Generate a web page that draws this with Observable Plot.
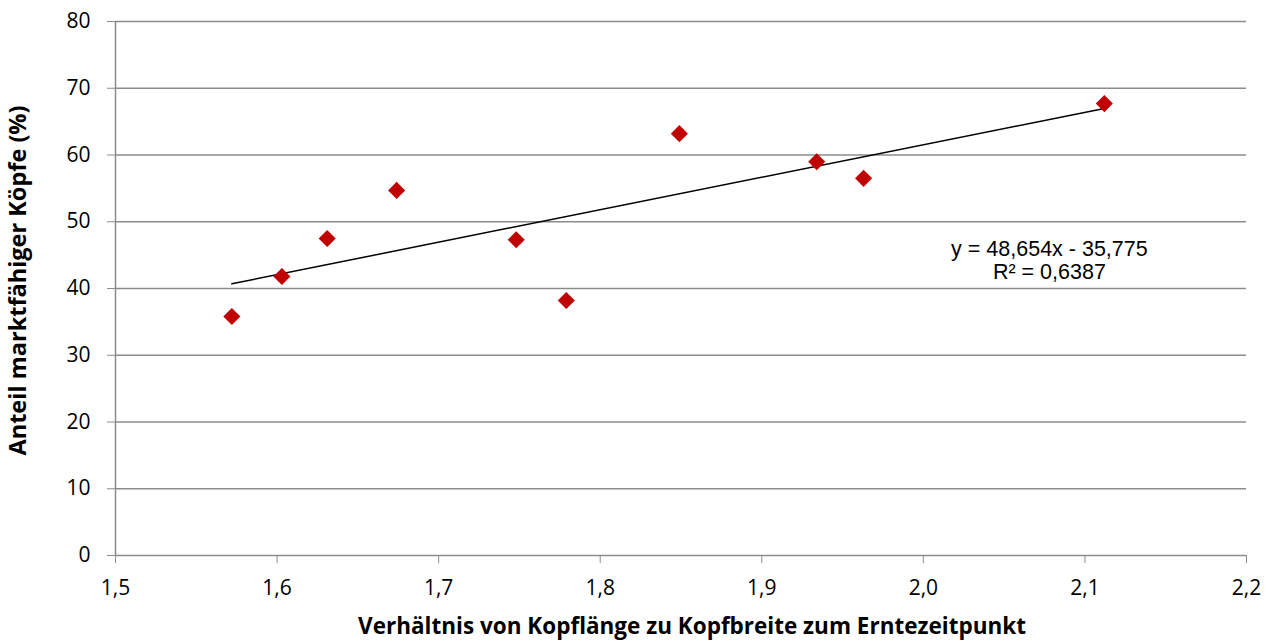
<!DOCTYPE html>
<html>
<head>
<meta charset="utf-8">
<script src="https://cdn.jsdelivr.net/npm/d3@7"></script>
<script src="https://cdn.jsdelivr.net/npm/@observablehq/plot@0.6"></script>
<style>
  html, body { margin: 0; padding: 0; background: #fff; }
  #chart svg { display: block; }
</style>
</head>
<body>
<div id="chart"></div>
<script>
// Data
const ratio = [1.572, 1.603, 1.631, 1.674, 1.748, 1.779, 1.849, 1.934, 1.963, 2.112];
const share = [35.8, 41.8, 47.5, 54.7, 47.3, 38.2, 63.2, 59.0, 56.5, 67.7];
const slope = 48.654;
const intercept = -35.775;
const equationLabel = "y = 48,654x - 35,775\nR² = 0,6387";
const labelPos = [2.078, 44.3];
const xTicks = [1.5, 1.6, 1.7, 1.8, 1.9, 2.0, 2.1, 2.2];
const yTicks = [0, 10, 20, 30, 40, 50, 60, 70, 80];
const xTitle = "Verhältnis von Kopflänge zu Kopfbreite zum Erntezeitpunkt";
const yTitle = "Anteil marktfähiger Köpfe (%)";

const points = ratio.map((r, i) => ({x: r, y: share[i]}));
const xMin = d3.min(ratio), xMax = d3.max(ratio);
const trend = [xMin, xMax].map(x => ({x, y: slope * x + intercept}));

const fmt = d => d.toFixed(1).replace(".", ",");
const grid = "#8c8c8c";

const chart = Plot.plot({
  width: 1273,
  height: 642,
  marginLeft: 115,
  marginRight: 27,
  marginTop: 21,
  marginBottom: 87,
  style: {fontFamily: "'Open Sans', sans-serif", fontSize: "21px", color: "#000", background: "#fff"},
  x: {type: "linear", domain: [1.5, 2.2]},
  y: {type: "linear", domain: [0, 80]},
  marks: [
    Plot.ruleY(yTicks, {stroke: grid, strokeWidth: 1.5}),
    Plot.ruleX([1.5], {stroke: grid, strokeWidth: 1.5}),
    Plot.axisY({ticks: yTicks, tickSize: 8, tickPadding: 17, stroke: grid, strokeOpacity: 1, label: null, fontSize: 21, fill: "#000"}),
    Plot.axisX({ticks: xTicks, tickSize: 8, tickPadding: 17, stroke: grid, strokeOpacity: 1, tickFormat: fmt, label: null, fontSize: 21, fill: "#000"}),
    Plot.line(trend, {x: "x", y: "y", stroke: "#000", strokeWidth: 1.5}),
    Plot.dot(points, {x: "x", y: "y", symbol: "diamond2", r: 7.7, fill: "#c00000", stroke: "none"}),
    Plot.text([equationLabel], {x: labelPos[0], y: labelPos[1], text: d => d, lineAnchor: "middle", fontFamily: "'Liberation Sans', Arial, sans-serif", fontSize: 21.5, lineHeight: 1.07, fill: "#000"}),
    Plot.text([xTitle], {frameAnchor: "bottom", dx: 11, dy: 71, lineAnchor: "middle", textAnchor: "middle", text: d => d, fontWeight: "bold", fontSize: 22.5}),
    Plot.text([yTitle], {frameAnchor: "left", dx: -97, dy: -8, rotate: -90, lineAnchor: "middle", textAnchor: "middle", text: d => d, fontWeight: "bold", fontSize: 23.5})
  ]
});
document.getElementById("chart").appendChild(chart);
</script>
</body>
</html>
